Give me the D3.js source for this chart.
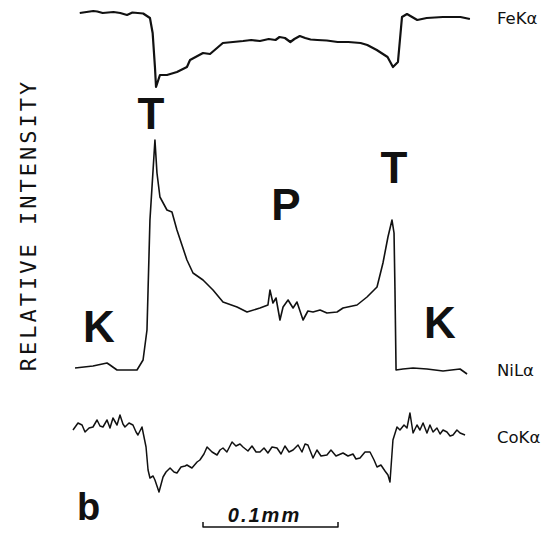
<!DOCTYPE html>
<html>
<head>
<meta charset="utf-8">
<title>Line scan</title>
<script src="https://cdn.jsdelivr.net/npm/d3@7"></script>
<style>
  body { margin: 0; background: #fff; }
  svg { display: block; }
  .trace { fill: none; stroke: #111; stroke-linejoin: round; }
  .lbl { font-family: "DejaVu Sans", sans-serif; fill: #111; }
  .zone { font-family: "Liberation Sans", Arial, sans-serif; font-weight: bold; fill: #111; }
</style>
</head>
<body>
<svg id="chart" width="553" height="533"></svg>
<script>
// distance along the scan in micrometres, intensity in relative units per element
const feX = [5, 10, 15, 18, 22, 26, 30, 35, 40, 44, 48, 52, 57, 59, 60.7, 61.5, 64.4, 69.6, 77, 84.4, 86.7, 96.3, 101.5, 111, 126, 132, 138.5, 145, 150, 153, 157, 161, 164, 168, 172, 176, 181, 188, 196, 204, 213, 218, 225, 233, 237, 240.7, 243.7, 247.4, 255, 262, 274, 287, 294];
const feY = [87, 88, 89, 88.5, 87, 87.5, 88, 87, 85, 87.5, 87, 86.5, 82, 67, 33, 13, 25, 25, 28, 33, 40, 47, 46, 57, 59, 60, 59, 61, 60, 63, 62, 58, 61, 64, 62, 60.5, 60, 59.5, 58, 58, 57, 55, 50, 43, 33, 38, 83, 86, 80, 82, 83, 83, 81];

const niX = [1.5, 14.8, 25.2, 27.4, 32.6, 47.4, 51.9, 54.8, 55.6, 57, 60.7, 62.2, 64.4, 69.6, 73.3, 77, 80.7, 84.4, 88.9, 96.3, 103.7, 111.1, 121.5, 128.9, 138.5, 144.4, 145.9, 148.1, 150.4, 153.3, 155.6, 159.3, 163, 165.9, 170.4, 174, 177.8, 183, 188.1, 195.6, 200, 210.4, 217.8, 225.2, 229.6, 233.3, 236.3, 237.8, 238.5, 239.3, 244.4, 251.9, 262.2, 274.1, 286.7, 291.9];
const niY = [4.8, 5.6, 6.8, 6, 4, 4, 8, 20, 36, 64, 96, 82.8, 73.2, 68, 67.2, 60, 54, 48, 42.8, 40, 36, 31.2, 29.2, 27.2, 28.8, 30, 36, 30.8, 32.8, 24, 29.2, 32, 28.8, 31.2, 24, 27.6, 27.2, 28, 26.8, 27.2, 28.8, 30, 33.2, 37.2, 46.8, 57.2, 64, 58.8, 36, 4, 4.4, 4.8, 4.4, 3.6, 4.4, 2.4];

const coX = [0, 3.7, 6.7, 8.9, 11.9, 14.8, 17.8, 20, 22.2, 25.2, 27.4, 29.6, 32.6, 34.8, 37, 38.5, 41.5, 44.4, 46.7, 48.1, 51.1, 54.1, 55.6, 57, 59.3, 60.7, 63.7, 66.7, 68.9, 71.9, 74.8, 77, 80, 83, 84.4, 88.1, 91.9, 94, 97, 99.3, 103, 106.7, 108.9, 111.1, 114, 117.8, 120.7, 123.7, 125.9, 129.6, 132.6, 135.6, 138.5, 141.5, 144.4, 147.4, 151.1, 154.1, 157, 160, 163, 166.7, 169.6, 171.9, 174, 177.8, 180.7, 183.7, 188.1, 191.1, 194.8, 200, 203.7, 207.4, 209.6, 212.6, 216.3, 220, 223, 225.2, 228.1, 231.1, 233.3, 234.8, 237, 240, 242.2, 245.2, 247.4, 249.6, 251.9, 254.8, 257, 259.3, 262.2, 264.4, 266.7, 269.6, 271.9, 274.1, 277, 279.3, 281.5, 284.4, 286.7, 290.4];
const coY = [70, 77, 75, 68, 72, 73, 80, 74, 73, 80, 72, 82, 75, 85, 76, 73, 77, 75, 68, 65, 73, 53, 30, 22, 24, 20, 8, 23, 28, 32, 28, 27, 33, 34, 35, 32, 38, 40, 46, 53, 48, 45, 50, 52, 48, 58, 54, 56, 53, 49, 54, 48, 48, 52, 47, 53, 52, 46, 54, 48, 50, 55, 48, 56, 55, 42, 50, 44, 45, 50, 44, 47, 44, 46, 41, 42, 48, 48, 40, 33, 35, 29, 25, 18, 60, 73, 70, 75, 72, 87, 67, 75, 70, 77, 67, 75, 68, 72, 66, 70, 68, 64, 65, 70, 67, 65];

const traceNames = ["FeKα", "NiLα", "CoKα"];
const zoneLabels = ["T", "T", "P", "K", "K"];
const scaleBarUm = 100;
const scaleBarText = "0.1mm";

const svg = d3.select("#chart");

const x = d3.scaleLinear().domain([0, 300]).range([73, 478]);
const yFe = d3.scaleLinear().domain([0, 100]).range([100, 0]);
const yNi = d3.scaleLinear().domain([0, 100]).range([380, 130]);
const yCo = d3.scaleLinear().domain([0, 100]).range([500, 400]);

const traces = [
  {xs: feX, ys: feY, y: yFe, w: 2.2},
  {xs: niX, ys: niY, y: yNi, w: 1.6},
  {xs: coX, ys: coY, y: yCo, w: 1.5}
];

traces.forEach(t => {
  const line = d3.line().x((d, i) => x(t.xs[i])).y(d => t.y(d));
  svg.append("path")
    .attr("class", "trace")
    .attr("stroke-width", t.w)
    .attr("d", line(t.ys));
});

// element names at the right end of each trace
const nameY = [24, 376, 443];
svg.selectAll("text.name")
  .data(traceNames)
  .enter()
  .append("text")
  .attr("class", "lbl name")
  .attr("x", 497)
  .attr("y", (d, i) => nameY[i])
  .attr("font-size", 16.5)
  .text(d => d);

// zone letters (T at the Ni peaks, P in the plessite, K in kamacite)
const zonePos = [[151, 129], [394, 183], [286, 220], [99, 342], [440, 338]];
svg.selectAll("text.zone")
  .data(zoneLabels)
  .enter()
  .append("text")
  .attr("class", "zone")
  .attr("text-anchor", "middle")
  .attr("x", (d, i) => zonePos[i][0])
  .attr("y", (d, i) => zonePos[i][1])
  .attr("font-size", 44)
  .text(d => d);

// axis title
svg.append("text")
  .attr("class", "lbl")
  .attr("transform", "translate(36,225) rotate(-90)")
  .attr("text-anchor", "middle")
  .attr("font-size", 22)
  .attr("letter-spacing", 3)
  .style("font-family", "'DejaVu Sans Mono', monospace")
  .text("RELATIVE INTENSITY");

// panel letter
svg.append("text")
  .attr("class", "zone")
  .attr("x", 77)
  .attr("y", 520)
  .attr("font-size", 38)
  .text("b");

// scale bar
const x0 = 203, x1 = x0 + (x(scaleBarUm) - x(0));
svg.append("path")
  .attr("class", "trace")
  .attr("stroke-width", 1.5)
  .attr("d", `M${x0},522V527H${x1}V522`);
svg.append("text")
  .attr("class", "zone")
  .attr("x", (x0 + x1) / 2 - 6)
  .attr("y", 522)
  .attr("text-anchor", "middle")
  .attr("font-size", 20)
  .attr("letter-spacing", 2)
  .attr("font-style", "italic")
  .text(scaleBarText);
</script>
</body>
</html>
